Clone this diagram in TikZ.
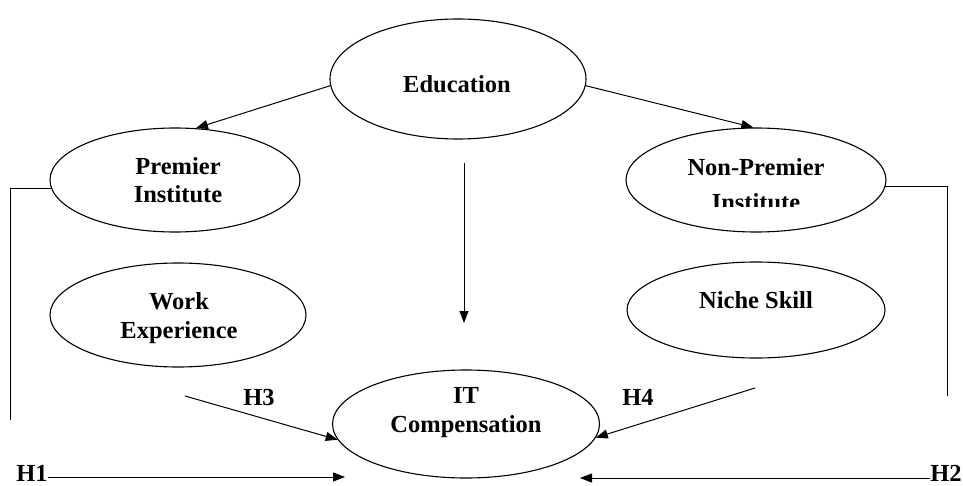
\documentclass[tikz,border=0pt]{standalone}
\usepackage{fontspec}
\setmainfont{Liberation Serif}
\usetikzlibrary{shapes.geometric,arrows.meta}
\begin{document}
\begin{tikzpicture}[x=1pt,y=-1pt,
  oval/.style={draw,ellipse,line width=1.1pt,inner sep=0pt},
  lbl/.style={font=\bfseries\fontsize{24.5}{28.5}\selectfont,align=center,anchor=base,inner sep=0pt},
  arr/.style={line width=1pt,-{Triangle[length=12pt,width=9pt]}},
  ln/.style={line width=1pt}]
\useasboundingbox (0,0) rectangle (963,486);
% ellipses
\node[oval,minimum width=256pt,minimum height=120pt] (edu) at (458,79) {};
\node[oval,minimum width=250pt,minimum height=104pt] (prem) at (175,180) {};
\node[oval,minimum width=260pt,minimum height=104pt] (np) at (756,180) {};
\node[oval,minimum width=256pt,minimum height=104pt] (we) at (178,315) {};
\node[oval,minimum width=258pt,minimum height=96pt] (ns) at (756,310) {};
\node[oval,minimum width=267pt,minimum height=108pt] (it) at (466,424) {};
% texts (base anchor = baseline of the last line)
\node[lbl] (eduT) at (457,93) {Education};
\node[lbl] (premT) at (178,203) {Premier\\Institute};
\begin{scope}
  \clip (600,100) rectangle (900,207);
  \node[lbl] (npT) at (756,211) {Non-Premier\\[7pt]Institute};
\end{scope}
\node[lbl] (weT) at (179,338) {Work\\Experience};
\node[lbl] (nsT) at (756,308) {Niche Skill};
\node[lbl] (itT) at (466,432) {IT\\Compensation};
\node[lbl] (h1) at (32,481) {H1};
\node[lbl] (h2) at (946,481) {H2};
\node[lbl] (h3) at (259,405) {H3};
\node[lbl] (h4) at (638,405) {H4};
% free coordinates
\coordinate (vtop) at (464,163);
\coordinate (vbot) at (464,323);
\coordinate (h3s) at (185,396);
\coordinate (h4s) at (755,388);
\coordinate (h1e) at (345,477);
\coordinate (h2e) at (580,478);
\coordinate (lb) at (10,420);
\coordinate (rb) at (947,396);
% connectors
\draw[arr] (edu.183) -- (prem.68);
\draw[arr] (edu.357) -- (np.93);
\draw[arr] (vtop) -- (vbot);
\draw[arr] (h3s) -- (it.187);
\draw[arr] (h4s) -- (it.354);
\draw[arr] (h1.east |- h1e) -- (h1e);
\draw[arr] (h2.west |- h2e) -- (h2e);
\draw[ln] (prem.184) -| (lb);
\draw[ln] (np.-3.5) -| (rb);
\end{tikzpicture}
\end{document}
